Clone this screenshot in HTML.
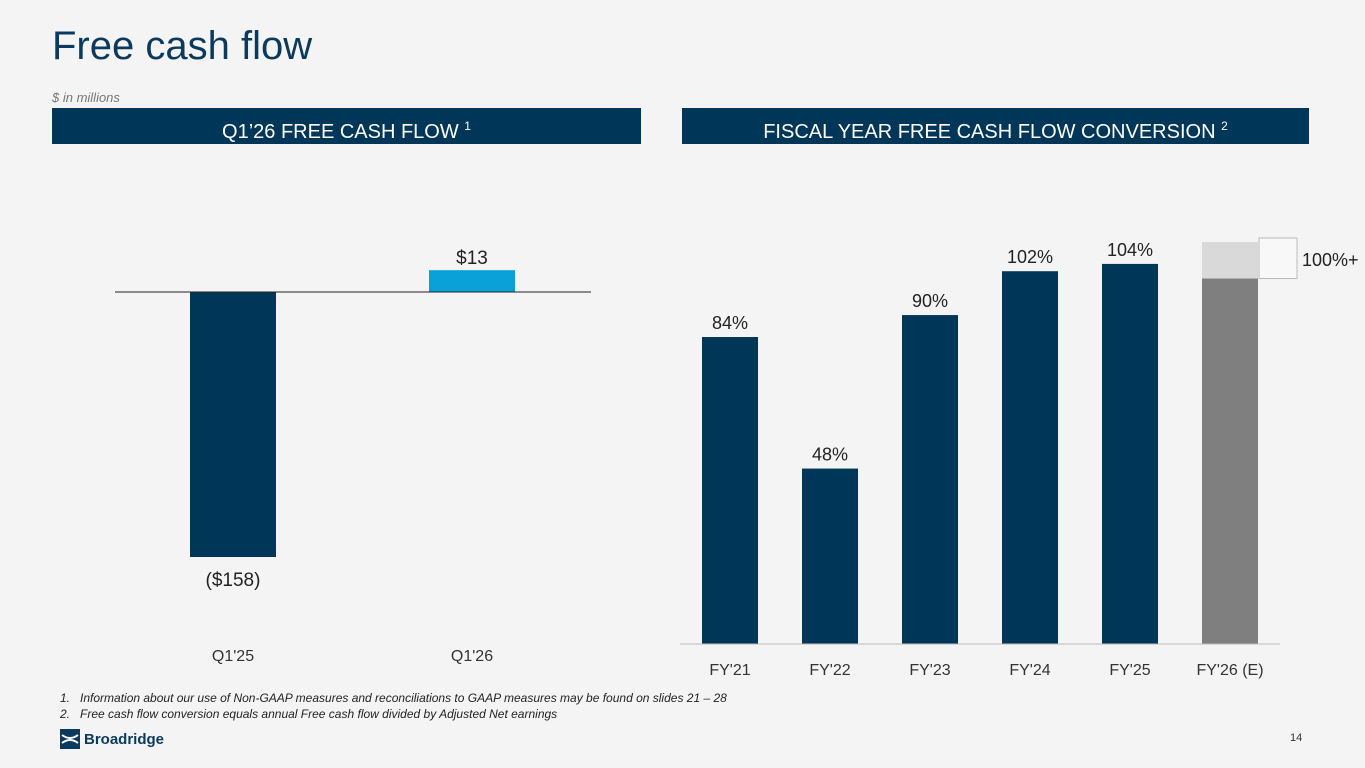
<!DOCTYPE html>
<html><head><meta charset="utf-8"><style>
body{margin:0;width:1365px;height:768px;background:#f4f4f4;font-family:"Liberation Sans",Arial,sans-serif;position:relative;overflow:hidden}
.a{position:absolute}
.hdr{position:absolute;top:108px;height:36px;background:#003658;color:#fff;font-size:20px;line-height:36px;text-align:center}
.hdr sup{font-size:12px;vertical-align:8px}
</style></head><body>
<div class="a" style="left:52px;top:24px;font-size:40px;color:#0b3a5c">Free cash flow</div>
<div class="a" style="left:52px;top:90px;font-size:13px;font-style:italic;color:#777">$ in millions</div>
<div class="hdr" style="left:52px;width:589px">Q1’26 FREE CASH FLOW <sup>1</sup></div>
<div class="hdr" style="left:682px;width:627px">FISCAL YEAR FREE CASH FLOW CONVERSION <sup>2</sup></div>
<svg class="a" style="left:0;top:0" width="1365" height="768" font-family="Liberation Sans, Arial, sans-serif">
<g id="left"></g><g id="right"></g>
</svg>
<div class="a" style="left:60px;top:690px;font-size:12px;font-style:italic;color:#222;line-height:16px">1.&nbsp;&nbsp;&nbsp;Information about our use of Non-GAAP measures and reconciliations to GAAP measures may be found on slides 21 – 28<br>2.&nbsp;&nbsp;&nbsp;Free cash flow conversion equals annual Free cash flow divided by Adjusted Net earnings</div>
<div class="a" style="left:60px;top:729px;display:flex;align-items:center">
<svg width="20" height="20"><rect width="20" height="20" fill="#0b3a5c"/><path d="M2 6 Q10 12 18 6 M2 14 Q10 8 18 14" stroke="#fff" stroke-width="2" fill="none"/></svg>
<span style="margin-left:4px;font-size:15px;font-weight:bold;color:#0b3a5c">Broadridge</span></div>
<div class="a" style="left:1290px;top:732px;font-size:11px;color:#333">14</div>
<script>
const NS="http://www.w3.org/2000/svg";
function mk(p,t,a,txt){const e=document.createElementNS(NS,t);for(const k in a)e.setAttribute(k,a[k]);if(txt!=null)e.textContent=txt;p.appendChild(e);return e;}
const qCats=["Q1'25","Q1'26"];
const qVals=[-158,13];
const qLabels=["($158)","$13"];
const fyCats=["FY'21","FY'22","FY'23","FY'24","FY'25","FY'26 (E)"];
const fyVals=[84,48,90,102,104,100];
const fyLabels=["84%","48%","90%","102%","104%","100%+"];
const fyUpper=110;
// left
const L=document.getElementById('left');
const ly0=292, lk=265/158;
const lx=i=>233+i*239;
const ly=v=>ly0-v*lk;
qVals.forEach((v,i)=>{
 const r=mk(L,'rect',{x:lx(i)-43,y:Math.min(ly(v),ly0),width:86,height:Math.abs(ly(v)-ly0),fill:i==0?'#003658':'#0aa0d8'});
 
 
 const t=mk(L,'text',{x:lx(i),y:v<0?ly(v)+29:ly(v)-6,'text-anchor':'middle','font-size':19,fill:'#222'},qLabels[i]);
 
 
 const c=mk(L,'text',{x:lx(i),y:661,'text-anchor':'middle','font-size':16,fill:'#333'},qCats[i]);
 
 
});
mk(L,'line',{x1:115,x2:591,y1:ly0,y2:ly0,stroke:'#222','stroke-width':1});
// right
const R=document.getElementById('right');
const ry0=644, rk=307/84;
const rx=i=>730+i*100;
const ry=v=>ry0-v*rk;
fyVals.forEach((v,i)=>{
 const est=i==fyVals.length-1;
 if(est){
  const u=mk(R,'rect',{x:rx(i)-28,y:ry(fyUpper),width:56,height:ry(v)-ry(fyUpper),fill:'#d9d9d9'});
  
  
  const b=mk(R,'rect',{x:rx(i)+29,y:ry(fyUpper)-4,width:38,height:ry(v)-ry(fyUpper)+4,fill:'#f8f8f8',stroke:'#bbb'});
  
  
  const t=mk(R,'text',{x:rx(i)+72,y:ry(fyUpper)+24,'font-size':18,fill:'#222'},fyLabels[i]);
  
  
 }
 const r=mk(R,'rect',{x:rx(i)-28,y:ry(v),width:56,height:ry0-ry(v),fill:est?'#7f7f7f':'#003658'});
 
 
 if(!est){
  const t=mk(R,'text',{x:rx(i),y:ry(v)-8,'text-anchor':'middle','font-size':18,fill:'#222'},fyLabels[i]);
  
  
 }
 const c=mk(R,'text',{x:rx(i),y:675,'text-anchor':'middle','font-size':16,fill:'#333'},fyCats[i]);
 
 
});
mk(R,'line',{x1:680,x2:1280,y1:ry0,y2:ry0,stroke:'#bbb','stroke-width':1});
</script>
</body></html>
